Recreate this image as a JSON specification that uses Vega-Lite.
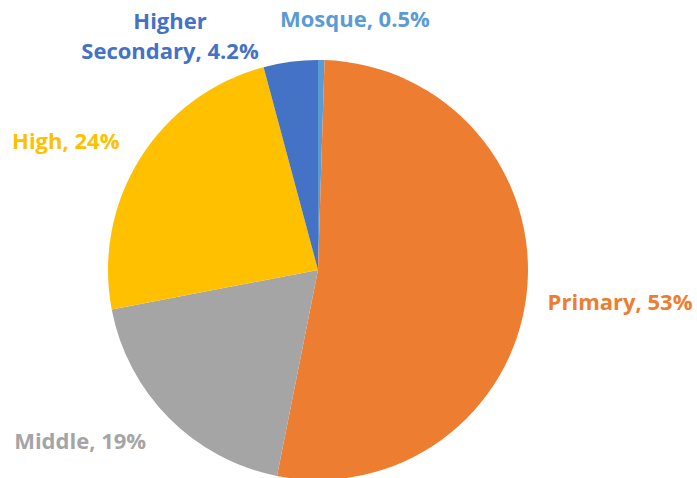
{
  "$schema": "https://vega.github.io/schema/vega-lite/v6.json",
  "width": 636,
  "height": 416,
  "autosize": {"type": "none"},
  "padding": {"left": 0, "top": 62, "right": 61, "bottom": 0},
  "background": "white",
  "config": {"view": {"stroke": null}},
  "data": {
    "values": [
      {"category": "Mosque", "value": 0.5, "label": "Mosque, 0.5%", "order": 1},
      {"category": "Primary", "value": 53, "label": "Primary, 53%", "order": 2},
      {"category": "Middle", "value": 19, "label": "Middle, 19%", "order": 3},
      {"category": "High", "value": 24, "label": "High, 24%", "order": 4},
      {"category": "Higher Secondary", "value": 4.2, "label": "Higher\nSecondary, 4.2%", "order": 5}
    ]
  },
  "encoding": {
    "theta": {"field": "value", "type": "quantitative", "stack": true},
    "order": {"field": "order", "type": "quantitative"},
    "color": {
      "field": "category",
      "type": "nominal",
      "scale": {
        "domain": ["Mosque", "Primary", "Middle", "High", "Higher Secondary"],
        "range": ["#5B9BD5", "#ED7D31", "#A5A5A5", "#FFC000", "#4472C4"]
      },
      "legend": null
    }
  },
  "layer": [
    {"mark": {"type": "arc", "outerRadius": 210}},
    {
      "mark": {"type": "text", "radius": 250, "dx": 33, "dy": 0, "font": "Open Sans", "fontWeight": "bold", "fontSize": 22, "baseline": "middle"},
      "encoding": {"text": {"condition": {"test": "datum.category === 'Mosque'", "field": "label"}, "value": ""}}
    },
    {
      "mark": {"type": "text", "radius": 300, "dx": 4, "dy": -1, "font": "Open Sans", "fontWeight": "bold", "fontSize": 22, "baseline": "middle"},
      "encoding": {"text": {"condition": {"test": "datum.category === 'Primary'", "field": "label"}, "value": ""}}
    },
    {
      "mark": {"type": "text", "radius": 290, "dx": -32, "dy": -32, "font": "Open Sans", "fontWeight": "bold", "fontSize": 22, "baseline": "middle"},
      "encoding": {"text": {"condition": {"test": "datum.category === 'Middle'", "field": "label"}, "value": ""}}
    },
    {
      "mark": {"type": "text", "radius": 280, "dx": -15, "dy": 21, "font": "Open Sans", "fontWeight": "bold", "fontSize": 22, "baseline": "middle"},
      "encoding": {"text": {"condition": {"test": "datum.category === 'High'", "field": "label"}, "value": ""}}
    },
    {
      "mark": {"type": "text", "radius": 260, "dx": -114, "dy": 10, "font": "Open Sans", "fontWeight": "bold", "fontSize": 22, "baseline": "middle", "lineBreak": "\n", "lineHeight": 30},
      "encoding": {"text": {"condition": {"test": "datum.category === 'Higher Secondary'", "field": "label"}, "value": ""}}
    }
  ]
}
